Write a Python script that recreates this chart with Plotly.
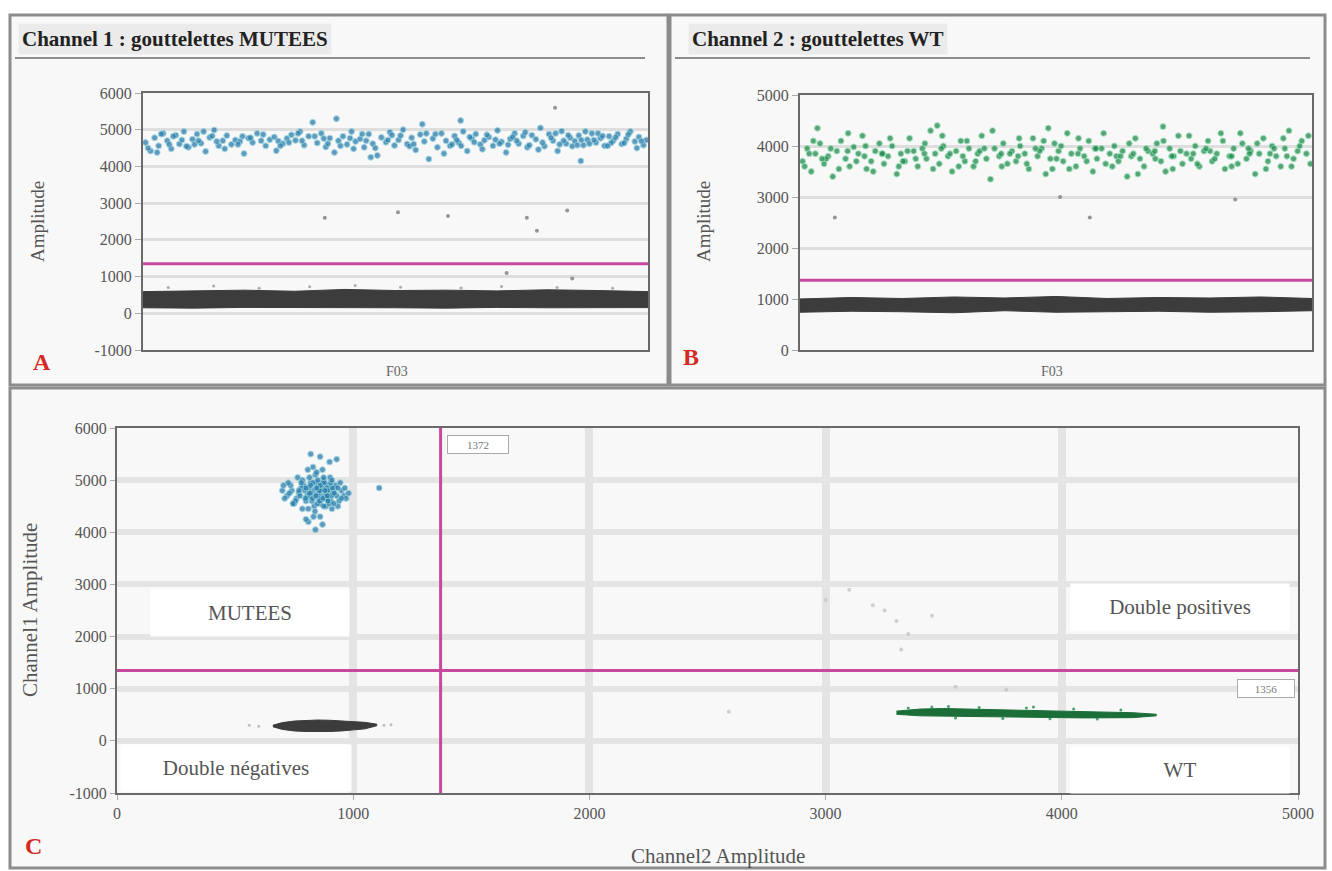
import plotly.graph_objects as go

W, H = 1332, 871
def px(x): return x / W
def py(y): return 1 - y / H

# ---------------- DATA ----------------
# Panel A : Channel 1 amplitude vs event index (well F03)
a_pos_x = [0.5,1.5,2.3,3.1,4.0,4.8,5.6,6.5,7.2,8.1,
           9.0,9.8,10.7,11.5,12.4,13.2,14.1,15.0,15.8,16.6,
           17.5,18.3,19.2,20.0,20.9,21.7,22.6,23.4,24.3,25.1,
           26.0,26.8,27.7,28.5,29.4,30.2,31.1,31.9,32.8,33.6,
           34.5,35.3,36.2,37.0,37.9,38.7,39.6,40.4,41.3,42.1,
           43.0,43.8,44.7,45.5,46.4,47.2,48.1,48.9,49.8,50.6,
           51.5,52.3,53.2,54.0,54.9,55.7,56.6,57.4,58.3,59.1,
           60.0,60.8,61.7,62.5,63.4,64.2,65.1,65.9,66.8,67.6,
           68.5,69.3,70.2,71.0,71.9,72.7,73.6,74.4,75.3,76.1,
           77.0,77.8,78.7,79.5,80.4,81.2,82.1,82.9,83.8,84.6,
           85.5,86.3,87.2,88.0,88.9,89.7,90.6,91.4,92.3,93.1,
           94.0,94.8,95.7,96.5,97.4,98.2,99.1,99.7,
           1.0,3.6,5.2,7.7,10.2,12.0,14.6,19.7,27.2,30.7,
           35.8,41.7,44.2,49.3,52.8,56.1,61.2,64.7,67.2,70.6,
           74.0,76.5,79.1,81.7,83.3,85.0,86.8,88.4,90.1,92.7,
           2.8,6.0,8.6,11.0,13.7,16.2,18.8,21.3,23.8,26.4,
           28.9,31.5,34.0,36.6,39.1,41.0,43.4,46.0,48.5,51.0,
           53.6,55.3,57.9,59.6,62.1,63.0,65.6,68.1,69.8,72.3,
           73.2,75.7,78.3,80.8,82.5,84.2,86.0,87.6,89.3,91.0,
           92.0,93.6,95.3,96.1,97.8,98.7,38.3,45.1,62.9,86.7]
a_pos_y = [4650,4420,4780,4560,4900,4700,4480,4850,4610,4950,
           4520,4740,4880,4630,4410,4790,4990,4560,4700,4840,
           4600,4720,4680,4350,4770,4650,4900,4700,4560,4730,
           4800,4690,4620,4760,4860,4710,4950,4580,4820,5200,
           4640,4900,4530,4770,4380,4700,4820,4600,4950,4680,
           4750,4520,4880,4620,4300,4790,4660,4930,4570,4720,
           5000,4610,4780,4450,4870,4680,4200,4760,4520,4900,
           4700,4560,4830,4650,4950,4420,4760,4880,4600,4710,
           4800,4560,4980,4670,4380,4750,4900,4620,4830,4520,
           4850,4740,5050,4550,4880,4700,4420,4960,4620,4780,
           4690,4840,4580,4730,4900,4650,4770,4560,4820,4700,
           4880,4610,4750,4950,4680,4800,4580,4720,
           4500,4880,4600,4720,4600,4950,4680,4820,4560,4900,
           4760,4480,4700,4850,4550,4900,4600,4800,4470,4620,
           4700,4580,4650,4900,4700,4550,4720,4620,4900,4640,
           4380,4820,4550,4700,4830,4480,4600,4780,4870,4430,
           4650,4700,4820,4620,4560,4770,4880,4500,4720,4840,
           4610,5150,4880,4350,4720,4560,4660,4860,4730,4590,
           4800,4930,4460,4780,4600,4850,4580,4950,4720,4830,
           4560,4790,4640,4870,4500,4690,5300,4250,5250,4150]
a_mid_x = [36, 50.5, 60.4, 76, 78, 84, 81.6, 72, 85]
a_mid_y = [2600, 2750, 2650, 2600, 2250, 2800, 5600, 1100, 950]
a_neg_band_x = [0, 10, 20, 30, 40, 50, 60, 70, 80, 90, 100]
a_neg_band_lo = [150, 140, 160, 145, 155, 150, 140, 160, 150, 145, 155]
a_neg_band_hi = [590, 610, 630, 600, 650, 620, 630, 610, 640, 620, 590]
a_neg_x = [5, 14, 23, 33, 42, 51, 63, 71, 82, 93]
a_neg_y = [700, 740, 680, 720, 760, 710, 690, 730, 700, 680]
a_threshold = 1350

# Panel B : Channel 2 amplitude vs event index
b_pos_x = [0.5,1.4,2.2,3.0,3.9,4.7,5.5,6.4,7.2,8.0,
           8.9,9.7,10.5,11.4,12.2,13.0,13.9,14.7,15.5,16.4,
           17.2,18.0,18.9,19.7,20.5,21.4,22.2,23.0,23.9,24.7,
           25.5,26.4,27.2,28.0,28.9,29.7,30.5,31.4,32.2,33.0,
           33.9,34.7,35.5,36.4,37.2,38.0,38.9,39.7,40.5,41.4,
           42.2,43.0,43.9,44.7,45.5,46.4,47.2,48.0,48.9,49.7,
           50.5,51.4,52.2,53.0,53.9,54.7,55.5,56.4,57.2,58.0,
           58.9,59.7,60.5,61.4,62.2,63.0,63.9,64.7,65.5,66.4,
           67.2,68.0,68.9,69.7,70.5,71.4,72.2,73.0,73.9,74.7,
           75.5,76.4,77.2,78.0,78.9,79.7,80.5,81.4,82.2,83.0,
           83.9,84.7,85.5,86.4,87.2,88.0,88.9,89.7,90.5,91.4,
           92.2,93.0,93.9,94.7,95.5,96.4,97.2,98.0,98.9,99.7,
           1.8,5.1,9.3,12.6,16.0,20.1,24.3,27.6,31.8,35.1,
           39.3,42.6,46.8,50.1,54.3,57.6,61.8,65.1,69.3,72.6,
           76.8,80.1,84.3,87.6,91.8,95.1,3.4,26.8,48.5,70.9,
           0.9,2.6,4.3,6.0,7.6,9.4,11.0,12.8,14.3,16.1,
           17.6,19.3,21.0,22.6,24.4,26.0,27.8,29.3,31.0,32.6,
           34.3,36.0,37.6,39.4,41.0,42.8,44.3,46.0,47.6,49.3,
           51.0,52.6,54.4,56.0,57.8,59.3,61.0,62.6,64.3,66.0,
           67.6,69.4,71.0,72.8,74.3,76.0,77.6,79.3,81.0,82.6,
           84.3,86.0,87.8,89.3,91.0,92.6,94.4,96.0,97.6,99.3]
b_pos_y = [3700,3950,3500,3850,4050,3650,3800,3400,3900,4100,
           3750,3600,3980,3850,4200,3550,3700,3900,4050,3650,
           3800,4000,3450,3850,3700,4150,3900,3600,3950,3750,
           4300,3850,3650,4000,3800,3500,3900,4100,3700,3950,
           3600,3850,4200,3750,3350,3950,3800,4050,3650,3900,
           3700,4000,3850,3550,4150,3800,3950,3450,3750,4050,
           3900,3700,4250,3850,3600,3950,3800,4100,3500,3750,
           3950,3650,3850,4000,3700,3900,3400,3800,4150,3750,
           3600,3900,3850,4050,3700,3500,3950,3800,4200,3650,
           3850,3750,4000,3600,3900,4100,3700,3850,4250,3550,
           3800,3950,3650,4050,3750,3900,3450,3850,4150,3700,
           4000,3800,3600,3950,4300,3750,3900,4100,3850,3650,
           3850,3750,3900,3800,3850,3700,3850,3950,3800,3900,
           3850,3800,3900,3750,3850,3950,3800,3850,3900,3800,
           3850,3900,3800,3950,3850,3800,4350,4400,4350,4380,
           3600,4100,3750,3950,3550,4250,3700,4000,3500,3850,
           4150,3600,3900,3750,4050,3550,4200,3850,3600,4100,
           3700,3950,4300,3600,3850,4150,3650,3950,4100,3550,
           4000,3550,4150,3700,3950,4250,3600,3800,4050,3450,
           3950,3750,4100,3550,3900,4200,3650,3950,3750,4100,
           3600,4250,3850,4050,3550,3950,4150,3600,4000,4200]
b_mid_x = [6.8, 50.8, 56.6, 85]
b_mid_y = [2600, 3000, 2600, 2950]
b_neg_band_x = [0, 10, 20, 30, 40, 50, 60, 70, 80, 90, 100]
b_neg_band_lo = [740, 760, 750, 730, 770, 740, 750, 760, 740, 750, 770]
b_neg_band_hi = [1000, 1030, 1010, 1040, 1020, 1050, 1010, 1030, 1020, 1040, 1010]
b_threshold = 1370

# Panel C : Channel1 amplitude vs Channel2 amplitude
c_mut_x = [760,790,810,830,845,860,875,890,905,920,
           770,800,820,835,850,865,880,895,910,930,
           780,805,825,840,855,870,885,900,915,940,
           750,795,815,838,852,868,882,898,925,950,
           765,785,812,828,848,862,878,892,908,935,
           775,808,832,846,858,872,888,902,918,960,
           740,798,822,842,857,875,893,912,945,970,
           820,860,900,870,840,1110,930,810,
           720,735,755,770,785,800,815,830,845,860,
           875,890,905,920,935,950,965,980,800,860,
           780,820,850,880,910,830,870,890,845,815,
           700,710,725,745,705,730]
c_mut_y = [4650,4900,4450,4800,4700,4550,5000,4750,4600,4850,
           4750,4600,4950,4500,4850,4700,4650,4900,4450,4700,
           4850,4700,4600,5100,4650,4950,4500,4800,4750,4600,
           4550,4800,4700,4400,4750,4850,4700,4550,4900,4800,
           5050,4450,4850,4650,4550,4800,4950,4650,4700,4500,
           4700,5200,4300,4950,4600,4650,4850,5050,4550,4700,
           4800,4650,4750,4700,4800,4500,4600,4850,4950,4650,
           5500,5450,5350,4150,4050,4850,5400,4200,
           4700,4900,4600,4800,5000,4850,5050,4950,5150,4900,
           5050,4800,4950,4750,4850,4650,4850,4750,4250,4300,
           4950,4900,5000,4800,5000,5250,5200,4700,4850,4750,
           4800,4650,4950,4550,4900,4750]
c_neg_x = [660, 700, 750, 800, 850, 900, 950, 1000, 1050, 1100]
c_neg_top = [300, 350, 380, 395, 400, 395, 385, 370, 355, 320]
c_neg_bot = [270, 220, 190, 180, 175, 180, 190, 205, 230, 290]
c_neg_sparse_x = [560, 600, 1130, 1160]
c_neg_sparse_y = [300, 280, 300, 310]
c_wt_x = [3300, 3400, 3500, 3600, 3700, 3800, 3900, 4000, 4100, 4200, 4300, 4400]
c_wt_top = [570, 610, 620, 610, 600, 590, 580, 570, 560, 550, 540, 510]
c_wt_bot = [510, 480, 470, 465, 460, 455, 450, 445, 440, 440, 445, 480]
c_wt_sparse_x = [3350, 3450, 3550, 3650, 3750, 3850, 3950, 4050, 4150, 4250, 3520, 3880]
c_wt_sparse_y = [630, 650, 440, 640, 430, 630, 425, 610, 420, 590, 660, 650]
c_other_x = [2590, 3550, 3765, 3000, 3100, 3200, 3250, 3300, 3350, 3450, 3320]
c_other_y = [560, 1040, 980, 2700, 2900, 2600, 2500, 2300, 2050, 2400, 1750]
c_thr_ch2 = 1370
c_thr_ch1 = 1350

yticks_a = [-1000, 0, 1000, 2000, 3000, 4000, 5000, 6000]
yticks_b = [0, 1000, 2000, 3000, 4000, 5000]
xticks_c = [0, 1000, 2000, 3000, 4000, 5000]
yticks_c = [-1000, 0, 1000, 2000, 3000, 4000, 5000, 6000]

# ---------------- FIGURE ----------------
BLUE = "#2b7bab"
GREEN = "#1f8a4c"
DGRAY = "#3c3c3c"
MAG = "#c8489e"
SERIF = "Liberation Serif"

fig = go.Figure()

def band(xs, lo, hi, color, xa, ya):
    fig.add_trace(go.Scatter(x=list(xs) + list(xs)[::-1], y=list(hi) + list(lo)[::-1],
                             fill="toself", fillcolor=color, mode="lines",
                             line=dict(color=color, width=1), xaxis=xa, yaxis=ya,
                             hoverinfo="skip", showlegend=False))

def pts(xs, ys, color, size, xa, ya, op=0.9, edge=None):
    fig.add_trace(go.Scatter(x=xs, y=ys, mode="markers",
                             marker=dict(color=color, size=size, opacity=op,
                                         line=dict(width=1 if edge else 0,
                                                   color=edge or color)),
                             xaxis=xa, yaxis=ya, showlegend=False))

# A
band(a_neg_band_x, a_neg_band_lo, a_neg_band_hi, DGRAY, "x", "y")
pts(a_neg_x, a_neg_y, "#8a8a8a", 3, "x", "y", 0.7)
pts(a_mid_x, a_mid_y, "#8a8a8a", 4, "x", "y")
pts(a_pos_x, a_pos_y, BLUE, 6, "x", "y", 0.75, "#8fd0dc")
# B
band(b_neg_band_x, b_neg_band_lo, b_neg_band_hi, DGRAY, "x2", "y2")
pts(b_mid_x, b_mid_y, "#8a8a8a", 4, "x2", "y2")
pts(b_pos_x, b_pos_y, GREEN, 6, "x2", "y2", 0.75, "#8fdcb0")
# C
band(c_neg_x, c_neg_bot, c_neg_top, DGRAY, "x3", "y3")
pts(c_neg_sparse_x, c_neg_sparse_y, "#aaaaaa", 3, "x3", "y3", 0.7)
band(c_wt_x, c_wt_bot, c_wt_top, "#1b6e38", "x3", "y3")
pts(c_wt_sparse_x, c_wt_sparse_y, GREEN, 3, "x3", "y3", 0.8)
pts(c_other_x, c_other_y, "#c4c4c4", 4, "x3", "y3", 0.8)
pts(c_mut_x, c_mut_y, BLUE, 6, "x3", "y3", 0.75, "#8fd0dc")

tickfont = dict(family=SERIF, size=16, color="#555")
axis_common = dict(showline=True, mirror=True, linecolor="#6a6a6a", linewidth=2,
                   zeroline=False, tickfont=tickfont, automargin=False)

fig.update_layout(
    width=W, height=H, margin=dict(l=0, r=0, t=0, b=0, autoexpand=False),
    paper_bgcolor="white", plot_bgcolor="#f2f2f2",
    xaxis=dict(domain=[px(143), px(648)], range=[0, 100], anchor="y",
               showticklabels=False, showgrid=False, **axis_common),
    yaxis=dict(domain=[py(350), py(93)], range=[-1000, 6000], anchor="x",
               tickvals=yticks_a, ticktext=[str(v) for v in yticks_a],
               ticks="outside", ticklen=6, tickcolor="#aaa",
               gridcolor="#dedede", gridwidth=3, **axis_common),
    xaxis2=dict(domain=[px(800), px(1312)], range=[0, 100], anchor="y2",
                showticklabels=False, showgrid=False, **axis_common),
    yaxis2=dict(domain=[py(350), py(95)], range=[0, 5000], anchor="x2",
                tickvals=yticks_b, ticktext=[str(v) for v in yticks_b],
                ticks="outside", ticklen=6, tickcolor="#aaa",
                gridcolor="#dedede", gridwidth=3, **axis_common),
    xaxis3=dict(domain=[px(117), px(1298)], range=[0, 5000], anchor="y3",
                tickvals=xticks_c, ticktext=[str(v) for v in xticks_c],
                ticks="outside", ticklen=5, tickcolor="#aaa",
                gridcolor="#e4e4e4", gridwidth=8, **axis_common),
    yaxis3=dict(domain=[py(793), py(428)], range=[-1000, 6000], anchor="x3",
                tickvals=yticks_c, ticktext=[str(v) for v in yticks_c],
                ticks="outside", ticklen=5, tickcolor="#aaa",
                gridcolor="#e4e4e4", gridwidth=6, **axis_common),
)

shapes = []
for (x0, y0, x1, y1) in [(10, 15, 668, 385), (670, 15, 1325, 385), (10, 388, 1325, 868)]:
    shapes.append(dict(type="rect", xref="paper", yref="paper",
                       x0=px(x0), x1=px(x1), y0=py(y1), y1=py(y0),
                       line=dict(color="#8c8c8c", width=3), fillcolor="#f8f8f8",
                       layer="below"))
for (x0, x1) in [(15, 645), (675, 1310)]:
    shapes.append(dict(type="line", xref="paper", yref="paper",
                       x0=px(x0), x1=px(x1), y0=py(58), y1=py(58),
                       line=dict(color="#8c8c8c", width=2)))
shapes.append(dict(type="line", xref="x domain", yref="y", x0=0, x1=1,
                   y0=a_threshold, y1=a_threshold, line=dict(color=MAG, width=3)))
shapes.append(dict(type="line", xref="x2 domain", yref="y2", x0=0, x1=1,
                   y0=b_threshold, y1=b_threshold, line=dict(color=MAG, width=3)))
shapes.append(dict(type="line", xref="x3 domain", yref="y3", x0=0, x1=1,
                   y0=c_thr_ch1, y1=c_thr_ch1, line=dict(color=MAG, width=3)))
shapes.append(dict(type="line", xref="x3", yref="y3 domain", x0=c_thr_ch2, x1=c_thr_ch2,
                   y0=0, y1=1, line=dict(color=MAG, width=3)))
fig.update_layout(shapes=shapes)

ann = []
def text(x, y, s, size=14, color="#555", bold=False, xanchor="center", angle=0, **kw):
    ann.append(dict(x=px(x), y=py(y), xref="paper", yref="paper", text=s,
                    showarrow=False, xanchor=xanchor, yanchor="middle", textangle=angle,
                    font=dict(family=SERIF, size=size, color=color,
                              weight="bold" if bold else "normal"), **kw))

text(18, 39, "Channel 1 : gouttelettes MUTEES", 21, "#222", True, "left",
     bgcolor="#ebebeb", borderpad=3)
text(688, 39, "Channel 2 : gouttelettes WT", 21, "#222", True, "left",
     bgcolor="#ebebeb", borderpad=3)
text(42, 362, "A", 24, "#d42a25", True)
text(691, 357, "B", 24, "#d42a25", True)
text(33, 846, "C", 24, "#d42a25", True)
text(38, 222, "Amplitude", 19, "#555", angle=-90)
text(704, 222, "Amplitude", 19, "#555", angle=-90)
text(397, 371, "F03", 14, "#666")
text(1052, 372, "F03", 14, "#666")
text(30, 610, "Channel1 Amplitude", 21, "#555", angle=-90)
text(718, 856, "Channel2 Amplitude", 21, "#555")
text(250, 613, "MUTEES", 21, "#555", bgcolor="white", width=196, height=44)
text(1180, 607, "Double positives", 21, "#555", bgcolor="white", width=216, height=44)
text(236, 768, "Double négatives", 21, "#555", bgcolor="white", width=228, height=44)
text(1180, 770, "WT", 21, "#555", bgcolor="white", width=216, height=44)
text(478, 444, "1372", 11, "#777", bgcolor="white", bordercolor="#aaa", borderwidth=1,
     width=58, height=15)
text(1266, 688, "1356", 11, "#777", bgcolor="white", bordercolor="#aaa", borderwidth=1,
     width=54, height=15)
fig.update_layout(annotations=ann)

post = ("var gd=document.getElementById('{plot_id}');"
        "gd.style.position='fixed';gd.style.left='0px';gd.style.top='0px';"
        "document.body.style.margin='0';"
        "document.documentElement.style.overflow='hidden';"
        "document.body.style.overflow='hidden';")
fig.write_html("out.html", config={"displayModeBar": False}, post_script=post)
